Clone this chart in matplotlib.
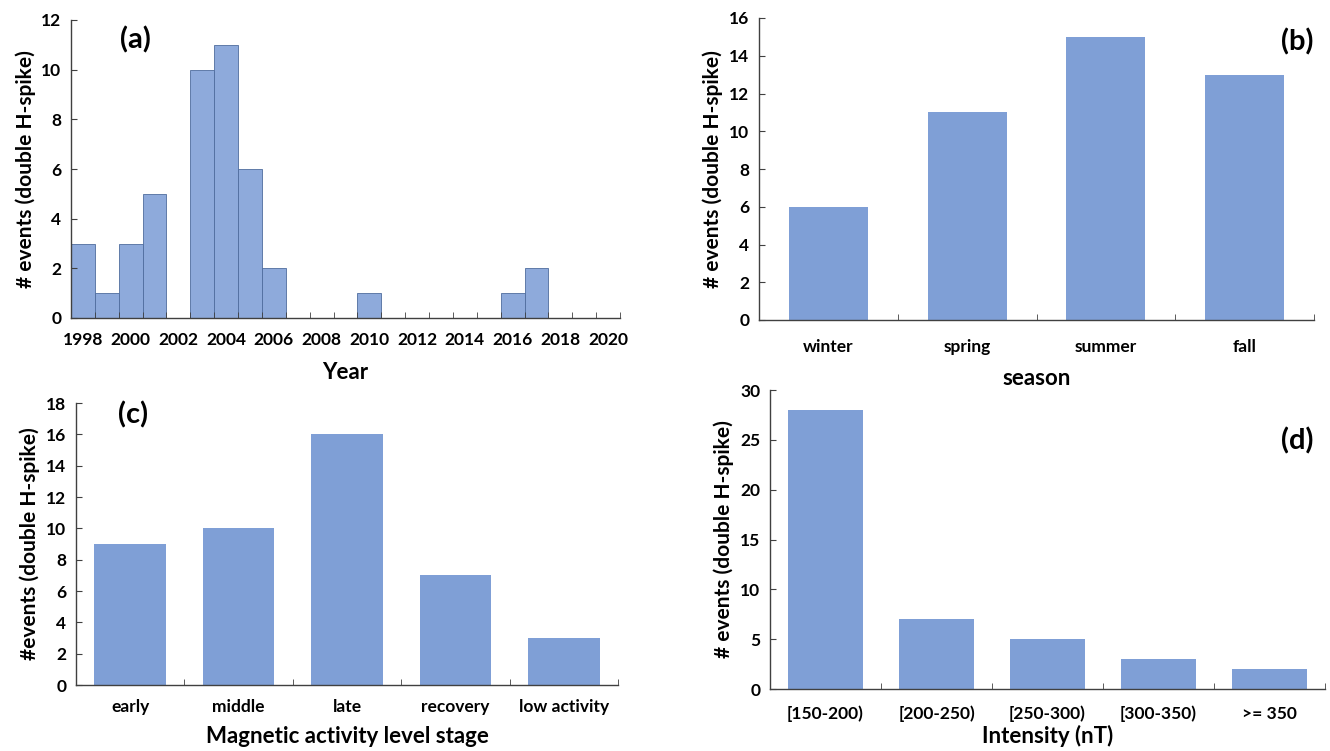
import matplotlib
matplotlib.use("Agg")
import matplotlib.pyplot as plt
import numpy as np

plt.rcParams['font.family'] = ['Lato', 'DejaVu Sans']
plt.rcParams['font.weight'] = 'bold'

# (a) events per year
years = list(range(1998, 2021))
year_counts = [3, 1, 3, 5, 0, 10, 11, 6, 2, 0, 0, 0, 1, 0, 0, 0, 0, 0, 1, 2, 0, 0, 0]

# (b) events per season
seasons = ['winter', 'spring', 'summer', 'fall']
season_counts = [6, 11, 15, 13]

# (c) events per magnetic activity stage
stages = ['early', 'middle', 'late', 'recovery', 'low activity']
stage_counts = [9, 10, 16, 7, 3]

# (d) events per intensity bin
intensity_bins = ['[150-200)', '[200-250)', '[250-300)', '[300-350)', '>= 350']
intensity_counts = [28, 7, 5, 3, 2]

bar_a = '#8eaadb'
edge_a = '#4f6c9e'
bar_c = '#7f9fd6'
axis_c = '#404040'


def style_axis(ax, ncat, ymax, ystep, xlabels, label_every=1, xpad=10):
    for s in ['top', 'right']:
        ax.spines[s].set_visible(False)
    for s in ['left', 'bottom']:
        ax.spines[s].set_color(axis_c)
        ax.spines[s].set_linewidth(1.0)
    ax.set_xlim(-0.5, ncat - 0.5)
    ax.set_ylim(0, ymax)
    ax.tick_params(axis='x', which='major', length=0, labelsize=12.5, pad=xpad)
    ax.tick_params(axis='x', which='minor', direction='in', length=4, color=axis_c)
    ax.tick_params(axis='y', direction='in', length=4, color=axis_c, labelsize=12.5, pad=7)
    yt = np.arange(0, ymax + 0.1, ystep)
    ax.set_yticks(yt)
    ax.set_yticklabels([str(int(v)) for v in yt], fontweight='bold')
    centers = np.arange(ncat)[::label_every]
    ax.set_xticks(centers)
    ax.set_xticklabels(xlabels[::label_every], fontweight='bold')
    ax.set_xticks(np.arange(ncat + 1) - 0.5, minor=True)


fig = plt.figure(figsize=(13.3, 7.51), dpi=100)
lab_kw = dict(fontsize=16, fontweight='bold')
ylab_kw = dict(fontsize=15, fontweight='bold')
tag_kw = dict(fontsize=21, fontweight='bold', va='center', ha='center')

# (a)
ax1 = fig.add_axes([71/1330, 1 - 318/751, 549/1330, 298/751])
ax1.bar(np.arange(len(years)), year_counts, width=1.0, color=bar_a, edgecolor=edge_a, linewidth=0.6)
style_axis(ax1, len(years), 12, 2, [str(y) for y in years], label_every=2, xpad=10)
ax1.set_xlabel('Year', labelpad=10, **lab_kw)
ax1.set_ylabel('# events (double H-spike)', labelpad=4, **ylab_kw)
fig.text(135/1330, 1 - 40/751, '(a)', **tag_kw)

# (b)
ax2 = fig.add_axes([759/1330, 1 - 320/751, 555/1330, 302/751])
ax2.bar(np.arange(len(seasons)), season_counts, width=0.57, color=bar_c)
style_axis(ax2, len(seasons), 16, 2, seasons, xpad=14)
ax2.set_xlabel('season', labelpad=9, **lab_kw)
ax2.set_ylabel('# events (double H-spike)', labelpad=4, **ylab_kw)
fig.text(1297/1330, 1 - 42/751, '(b)', **tag_kw)

# (c)
ax3 = fig.add_axes([76/1330, 1 - 685/751, 542/1330, 282/751])
ax3.bar(np.arange(len(stages)), stage_counts, width=0.66, color=bar_c)
style_axis(ax3, len(stages), 18, 2, stages, xpad=10)
ax3.set_xlabel('Magnetic activity level stage', labelpad=8, **lab_kw)
ax3.set_ylabel('#events (double H-spike)', labelpad=4, **ylab_kw)
fig.text(133/1330, 1 - 415/751, '(c)', **tag_kw)

# (d)
ax4 = fig.add_axes([770/1330, 1 - 689/751, 555/1330, 299/751])
ax4.bar(np.arange(len(intensity_bins)), intensity_counts, width=0.67, color=bar_c)
style_axis(ax4, len(intensity_bins), 30, 5, intensity_bins, xpad=12)
ax4.set_xlabel('Intensity (nT)', labelpad=2, **lab_kw)
ax4.set_ylabel('# events (double H-spike)', labelpad=4, **ylab_kw)
fig.text(1297/1330, 1 - 441/751, '(d)', **tag_kw)

fig.savefig('out.png', dpi=100)
